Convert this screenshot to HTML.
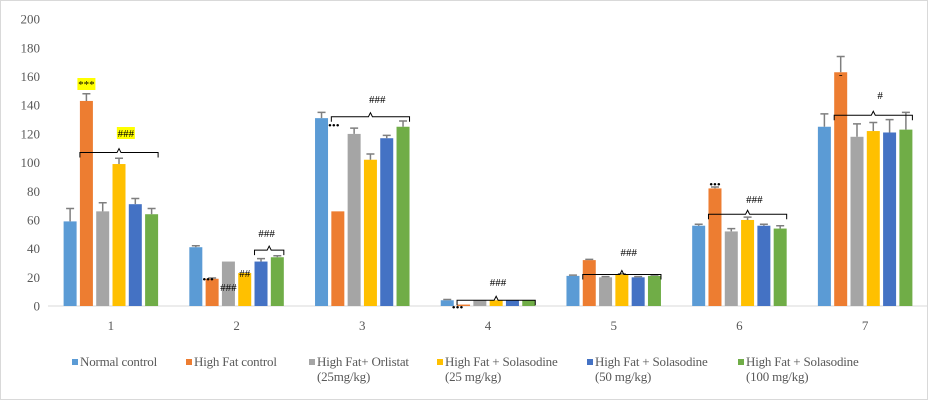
<!DOCTYPE html>
<html><head><meta charset="utf-8"><style>
body{margin:0;background:#fff}
svg{display:block}
svg text{font-family:"Liberation Serif","DejaVu Serif",serif}
</style></head><body>
<svg id="chart" width="929" height="401" viewBox="0 0 929 401" xmlns="http://www.w3.org/2000/svg">
<rect x="0.5" y="0.5" width="927" height="399" fill="#fff" stroke="#d9d9d9"/>
<g id="grid"></g><g id="bars"></g><g id="ann"></g><g id="legend"></g>
</svg>
<script>
const categories=["1","2","3","4","5","6","7"];
const seriesNames=["Normal control","High Fat  control","High Fat+ Orlistat","High Fat + Solasodine","High Fat + Solasodine","High Fat + Solasodine"];
const seriesSub=["","","(25mg/kg)","(25 mg/kg)","(50 mg/kg)","(100 mg/kg)"];
const colors=["#5b9bd5","#ed7d31","#a5a5a5","#ffc000","#4472c4","#70ad47"];
const normalControl=[59,41,131,4,21,56,125];
const highFat=[143,19,66,1,32,82,163];
const orlistat=[66,31,120,4,20,52,118];
const sol25=[99,23,102,4,22,60,122];
const sol50=[71,31,117,4,20,56,121];
const sol100=[64,34,125,4,21,54,123];
const errNormal=[9,1,4,0.5,0.5,1,9];
const errHigh=[5,0.5,0,0,0.5,1,11];
const errOrl=[6,0,4,0,0.5,2,9];
const errS25=[4,0,4,0,0.5,2,6];
const errS50=[4,2,2,0,0.5,1,9];
const errS100=[4,1,4,0,0.5,2,12];
const yTicks=[0,20,40,60,80,100,120,140,160,180,200];
const series=[normalControl,highFat,orlistat,sol25,sol50,sol100];
const errs=[errNormal,errHigh,errOrl,errS25,errS50,errS100];
const NS="http://www.w3.org/2000/svg";
const x0=48,plotW=880,y0=306,pxPerUnit=1.434;
const catW=plotW/categories.length,barStep=16.3,barW=13;
const yS=v=>y0-v*pxPerUnit;
const xC=i=>x0+catW*(i+0.5);
const xB=(i,s)=>xC(i)+(s-2.5)*barStep-barW/2;
function mk(t,a,p){const e=document.createElementNS(NS,t);for(const k in a)e.setAttribute(k,a[k]);p.appendChild(e);return e;}
const grid=document.getElementById('grid'),bars=document.getElementById('bars'),ann=document.getElementById('ann'),leg=document.getElementById('legend');
yTicks.forEach(t=>{const tx=mk('text',{x:40,y:yS(t)+4.5,'text-anchor':'end','font-size':13,fill:'#595959'},grid);tx.textContent=t;

});
const ax=mk('line',{x1:x0,x2:x0+plotW,y1:y0,y2:y0,stroke:'#d9d9d9'},grid);


categories.forEach((c,i)=>{const tx=mk('text',{x:xC(i),y:330,'text-anchor':'middle','font-size':13,fill:'#595959'},grid);tx.textContent=c;

});
series.forEach((ser,s)=>ser.forEach((v,i)=>{
const r=mk('rect',{x:xB(i,s),y:yS(v),width:barW,height:v*pxPerUnit,fill:colors[s]},bars);


const e=errs[s][i];if(e>0){const cx=xB(i,s)+barW/2;
const l=mk('path',{d:`M${cx} ${yS(v)}V${yS(v+e)}M${cx-4} ${yS(v+e)}H${cx+4}`,stroke:'#7f7f7f','stroke-width':1.5,fill:'none'},bars);

}
}));
function label(txt,x,y,hl,name){if(hl){const b=mk('rect',{x:x-9,y:y-10,width:18,height:12,fill:'#ffff00'},ann);}
const t=mk('text',{x:x,y:y,'text-anchor':'middle','font-size':11,fill:'#000'},ann);t.textContent=txt;

}
function brace(i,s1,s2,v,name){const xa=xB(i,s1),xb=xB(i,s2)+barW,y=yS(v),m=(xa+xb)/2;
const p=mk('path',{d:`M${xa} ${y+5}V${y}H${m-2}L${m} ${y-4}L${m+2} ${y}H${xb}V${y+5}`,stroke:'#000',fill:'none','stroke-width':1},ann);

}
label('***',xB(0,1)+barW/2,88,true,'sig-g1-highfat');
brace(0,1,5,107,'brace-g1');label('###',xC(0)+15,137,true,'sig-g1');
label('•••',xB(1,1)+barW/2-4,283,false,'sig-g2-highfat');
label('###',xB(1,2)+barW/2,291,false,'sig-g2-orl');label('##',xB(1,3)+barW/2,277,false,'sig-g2-s25');
brace(1,4,5,39,'brace-g2');label('###',xC(1)+30,237,false,'sig-g2');
label('•••',xB(2,1)+barW/2-4,129,false,'sig-g3-highfat');
brace(2,1,5,132,'brace-g3');label('###',xC(2)+15,103,false,'sig-g3');
label('•••',xB(3,1)+barW/2-6,311,false,'sig-g4-highfat');
brace(3,1,5,4,'brace-g4');label('###',xC(3)+10,286,false,'sig-g4');
brace(4,1,5,22,'brace-g5');label('###',xC(4)+15,256,false,'sig-g5');
label('•••',xB(5,1)+barW/2,188,false,'sig-g6-highfat');
brace(5,1,5,64,'brace-g6');label('###',xC(5)+15,203,false,'sig-g6');
label('-',xB(6,1)+barW/2,78,false,'sig-g7-highfat');
brace(6,1,5,133,'brace-g7');label('#',xC(6)+15,99,false,'sig-g7');
const legX=[72,186,309,437,587,738];
seriesNames.forEach((n,s)=>{const g=mk('g',{},leg);


mk('rect',{x:legX[s],y:359,width:6,height:6,fill:colors[s]},g);
const t=mk('text',{x:legX[s]+8,y:366,'font-size':13,'letter-spacing':-0.2,fill:'#595959'},g);t.textContent=n;
if(seriesSub[s]){const t2=mk('text',{x:legX[s]+8,y:381,'font-size':13,'letter-spacing':-0.2,fill:'#595959'},g);t2.textContent=seriesSub[s];}
});
</script>
</body></html>
